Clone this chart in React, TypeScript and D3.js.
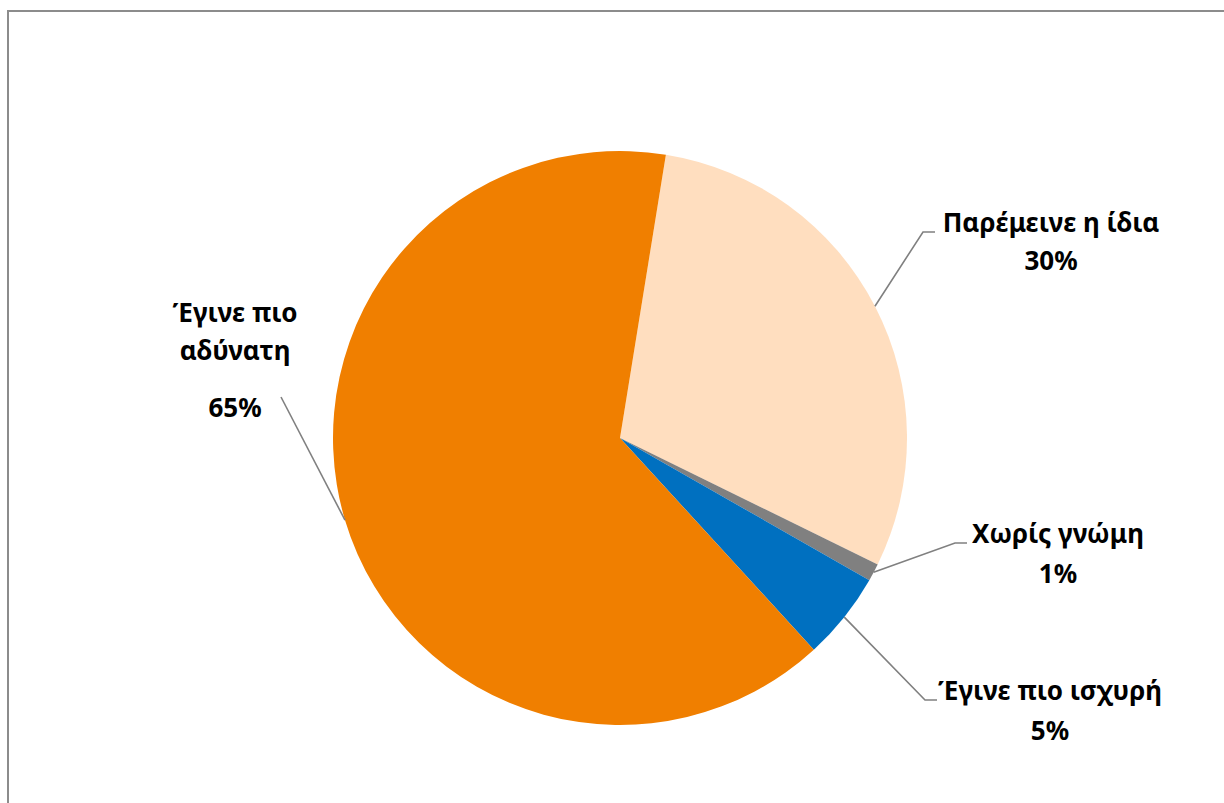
import { useEffect, useRef } from 'react'
import * as d3 from 'd3'

// Slice order as drawn clockwise, starting just right of 12 o'clock
const categories = ['Παρέμεινε η ίδια', 'Χωρίς γνώμη', 'Έγινε πιο ισχυρή', 'Έγινε πιο αδύνατη']
const values = [30, 1, 5, 65]
const pctLabels = ['30%', '1%', '5%', '65%']
const colors = ['#FFDEBF', '#808080', '#0070C0', '#F07F00']

// label text lines (category may wrap)
const labelLines = [['Παρέμεινε η ίδια'], ['Χωρίς γνώμη'], ['Έγινε πιο ισχυρή'], ['Έγινε πιο', 'αδύνατη']]

const App = () => {
	const svgRef = useRef<SVGSVGElement>(null)

	useEffect(() => {
		const width = 1224
		const height = 803
		const cx = 620
		const cy = 438
		const r = 287
		const startDeg = 9.2

		const svg = d3.select(svgRef.current)
		svg.selectAll('*').remove()
		svg.attr('width', width).attr('height', height)

		// chart area border (runs off right/bottom)
		svg
			.append('rect')
			.attr('x', 8)
			.attr('y', 11)
			.attr('width', width + 20)
			.attr('height', height + 20)
			.attr('fill', 'white')
			.attr('stroke', '#8c8c8c')
			.attr('stroke-width', 2)

		const pie = d3
			.pie<number>()
			.sort(null)
			.value((d) => d)
			.startAngle((startDeg * Math.PI) / 180)
			.endAngle((startDeg * Math.PI) / 180 + 2 * Math.PI)

		const arcs = pie(values)
		const arc = d3.arc<d3.PieArcDatum<number>>().innerRadius(0).outerRadius(r)

		const g = svg.append('g').attr('transform', `translate(${cx},${cy})`)

		g.selectAll('path')
			.data(arcs)
			.enter()
			.append('path')
			.attr('d', arc)
			.attr('fill', (_d, i) => colors[i])

		// label layout: elbow point, text center, baselines of each line
		const layout = [
			{ elbow: [923, 232], end: [935, 232], tx: 1051, ys: [232, 270] },
			{ elbow: [955, 543], end: [967, 543], tx: 1058, ys: [543, 583] },
			{ elbow: [925, 700], end: [937, 700], tx: 1050, ys: [700, 740] },
			{ elbow: [281, 397], end: null, tx: 235, ys: [322, 360, 417] },
		]

		arcs.forEach((a, i) => {
			const mid = (a.startAngle + a.endAngle) / 2
			const sx = cx + r * Math.sin(mid)
			const sy = cy - r * Math.cos(mid)
			const L = layout[i]
			const pts: [number, number][] = [[sx, sy], [L.elbow[0], L.elbow[1]]]
			if (L.end) pts.push([L.end[0], L.end[1]])
			svg
				.append('path')
				.attr('d', d3.line()(pts))
				.attr('fill', 'none')
				.attr('stroke', '#808080')
				.attr('stroke-width', 1.6)

			const lines = [...labelLines[i], pctLabels[i]]
			const t = svg
				.append('text')
				.attr('text-anchor', 'middle')
				.attr('font-family', '"Noto Sans", "Open Sans", sans-serif')
				.attr('font-weight', 'bold')
				.attr('font-size', 26)
				.attr('fill', '#000')
				.attr('data-category', categories[i])
			lines.forEach((ln, j) => {
				t.append('tspan').attr('x', L.tx).attr('y', L.ys[j]).text(ln)
			})
		})
	}, [])

	return <svg ref={svgRef} style={{ position: 'absolute', left: 0, top: 0 }}></svg>
}

export default App
